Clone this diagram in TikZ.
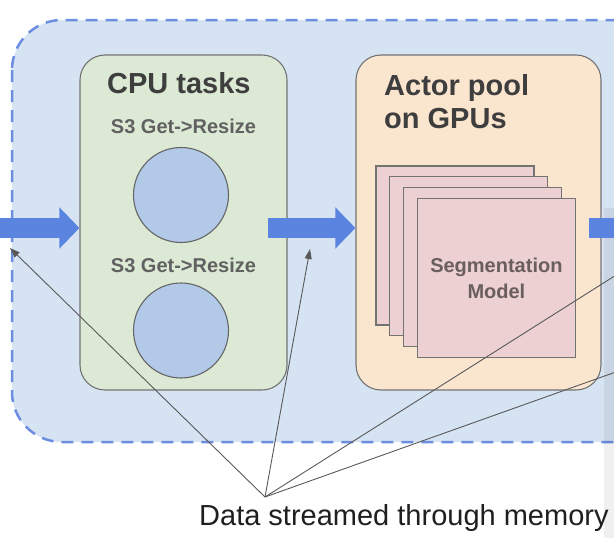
\documentclass[tikz,border=0pt]{standalone}
\usepackage{fontspec}
\setmainfont{Liberation Sans}
\usetikzlibrary{calc,positioning,arrows.meta}
\definecolor{poolblue}{HTML}{D6E3F2}
\definecolor{dashblue}{HTML}{6D8EE0}
\definecolor{cpugreen}{HTML}{DCE9D5}
\definecolor{taskblue}{HTML}{B2C9E8}
\definecolor{gpuorange}{HTML}{FAE5CF}
\definecolor{modelpink}{HTML}{ECD0D2}
\definecolor{flowblue}{HTML}{5B84E0}
\definecolor{titlegray}{HTML}{3E3E3E}
\definecolor{modeltext}{HTML}{6A5E5E}

\begin{document}
\begin{tikzpicture}[x=1pt, y=-1pt,
        >={Triangle[length=10pt,width=7pt]},
        stage/.style = {draw=black!55, line width=1.1pt, rounded corners=25pt, inner sep=0pt},
        task/.style = {circle, draw=black!60, line width=1.1pt, fill=taskblue,
                minimum size=95pt, inner sep=0pt},
        modelbox/.style = {draw=black!55, line width=1.1pt, fill=modelpink,
                minimum width=158pt, minimum height=159pt, inner sep=0pt},
        title/.style = {font=\fontsize{29}{33}\selectfont\bfseries, text=titlegray, inner sep=0pt},
        sublabel/.style = {font=\fontsize{20}{26}\selectfont\bfseries, text=black!62, inner sep=0pt},
        flow/.style = {draw=flowblue, line width=20pt, -{Triangle[length=20pt,width=40pt]}},
        pointer/.style = {draw=black!65, line width=0.9pt},
    ]
        \useasboundingbox (0,0) rectangle (614,538);
        \clip (0,0) rectangle (614,538);

        % dataset pipeline
        \draw[draw=dashblue, fill=poolblue, line width=2.5pt, dash pattern=on 12pt off 8pt,
            rounded corners=50pt] (12,20) rectangle (700,442);
        \fill[black, opacity=0.06] (604,208) rectangle (700,560);

        \node[stage, fill=cpugreen, minimum width=207pt, minimum height=335pt] (cpu) at (183.5,222.5) {};
        \node[stage, fill=gpuorange, minimum width=245pt, minimum height=335pt] (gpu) at (478.5,222.5) {};

        \node[title, anchor=base west] (cputitle) at (107,93) {CPU tasks};
        \node[sublabel, anchor=base] (get1) at (183.5,133) {S3 Get->Resize};
        \node[task] (task1) at (181,195) {};
        \node[sublabel, anchor=base] (get2) at (183.5,272) {S3 Get->Resize};
        \node[task] (task2) at (181,330.5) {};

        \node[title, align=left, anchor=north west] (gputitle) at (384,74.2) {Actor pool\\on GPUs};
        \foreach \i in {0,...,3}
            \node[modelbox] (m\i) at (455+13.8*\i,245.5+10.8*\i) {};
        \node[sublabel, text=modeltext, align=center] (model) at (m3) {Segmentation\\Model};

        % streaming arrows
        \coordinate (in) at (-10,228);
        \coordinate (out) at (700,228);
        \coordinate (s2) at ($(in -| cpu.east)+(-20,0)$);
        \coordinate (s3) at ($(in -| gpu.east)+(-13,0)$);
        \draw[flow] (in) -- (in -| cpu.west);
        \draw[flow] (s2) -- (in -| gpu.west);
        \draw[flow] (s3) -- (out);

        % callout
        \node[anchor=base west, font=\fontsize{29}{34}\selectfont, text=black!88, inner sep=0pt]
            (memory) at (199,525) {Data streamed through memory};
        \coordinate (hub) at (265,497);
        \coordinate (p1) at (10,248);
        \coordinate (p2) at (310,249);
        \coordinate (p3) at (700,222);
        \coordinate (p4) at (700,342);
        \draw[pointer, ->] (hub) -- (p1);
        \draw[pointer, ->] (hub) -- (p2);
        \draw[pointer] (hub) -- (p3);
        \draw[pointer] (hub) -- (p4);
    \end{tikzpicture}
\end{document}
